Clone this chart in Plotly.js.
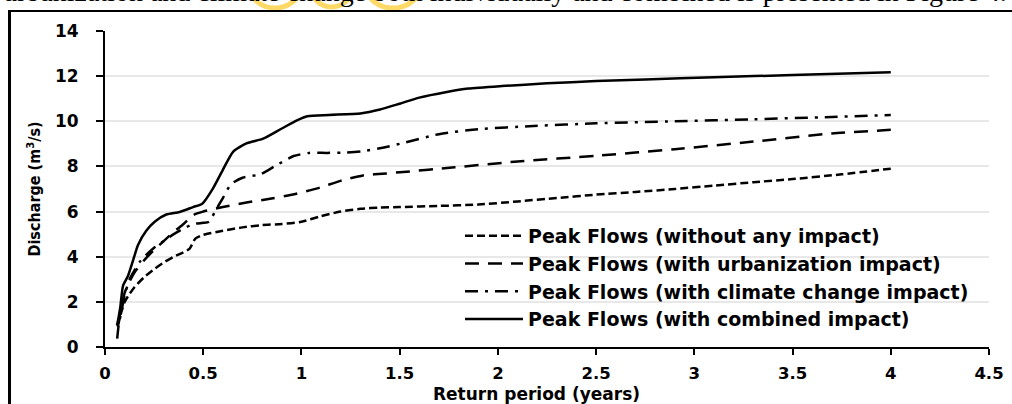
<!DOCTYPE html>
<html>
<head>
<meta charset="utf-8">
<script src="https://cdn.plot.ly/plotly-3.0.1.min.js"></script>
<style>html,body{margin:0;padding:0;background:#fff;}#chart{width:1012px;height:404px;}</style>
</head>
<body>
<div id="chart"></div>
<script>
// ---- data ----
const seriesNames = [
  'Peak Flows (without any impact)',
  'Peak Flows (with urbanization impact)',
  'Peak Flows (with climate change impact)',
  'Peak Flows (with combined impact)'
];

const periodWithout = [0.065, 0.08, 0.1, 0.125, 0.15, 0.2, 0.25, 0.3, 0.35, 0.4, 0.43, 0.46, 0.5, 0.6, 0.7, 0.8, 0.9, 1.0, 1.1, 1.2, 1.3, 1.4, 1.5, 1.7, 1.9, 2.1, 2.3, 2.5, 2.7, 2.9, 3.1, 3.3, 3.5, 3.75, 4.0];
const flowWithout   = [0.9, 1.45, 2.0, 2.35, 2.65, 3.1, 3.45, 3.75, 4.0, 4.2, 4.35, 4.8, 4.97, 5.15, 5.3, 5.4, 5.45, 5.55, 5.8, 6.0, 6.12, 6.18, 6.2, 6.25, 6.31, 6.45, 6.6, 6.75, 6.87, 7.0, 7.15, 7.3, 7.44, 7.65, 7.9];

const periodUrban = [0.065, 0.08, 0.1, 0.125, 0.15, 0.2, 0.25, 0.3, 0.35, 0.4, 0.45, 0.5, 0.6, 0.72, 0.855, 0.974, 1.093, 1.194, 1.313, 1.432, 1.5, 1.78, 2.1, 2.5, 2.9, 3.3, 3.7, 4.0];
const flowUrban   = [1.0, 1.6, 2.4, 2.9, 3.3, 3.85, 4.3, 4.7, 5.1, 5.45, 5.85, 6.0, 6.2, 6.4, 6.59, 6.79, 7.06, 7.35, 7.6, 7.69, 7.74, 7.96, 8.22, 8.47, 8.76, 9.1, 9.46, 9.62];

const periodClimate = [0.062, 0.07, 0.083, 0.1, 0.125, 0.15, 0.175, 0.2, 0.25, 0.3, 0.35, 0.4, 0.45, 0.5, 0.53, 0.56, 0.6, 0.64, 0.7, 0.79, 0.87, 0.96, 1.04, 1.13, 1.23, 1.31, 1.42, 1.5, 1.7, 1.9, 2.18, 2.5, 2.9, 3.3, 3.7, 4.0];
const flowClimate   = [0.37, 1.0, 1.55, 2.3, 3.0, 3.4, 3.75, 4.0, 4.4, 4.7, 5.0, 5.25, 5.45, 5.5, 5.55, 6.0, 6.6, 7.2, 7.5, 7.65, 8.04, 8.46, 8.6, 8.6, 8.62, 8.67, 8.84, 9.0, 9.43, 9.65, 9.79, 9.91, 10.0, 10.09, 10.19, 10.28];

const periodCombined = [0.061, 0.07, 0.078, 0.092, 0.117, 0.143, 0.168, 0.21, 0.253, 0.312, 0.38, 0.448, 0.495, 0.55, 0.6, 0.652, 0.72, 0.805, 0.9, 0.98, 1.03, 1.14, 1.3, 1.4, 1.5, 1.6, 1.74, 1.85, 2.02, 2.25, 2.5, 2.75, 3.1, 3.5, 4.0];
const flowCombined   = [0.95, 1.35, 1.77, 2.72, 3.15, 3.84, 4.52, 5.15, 5.55, 5.87, 5.98, 6.2, 6.35, 7.03, 7.85, 8.65, 9.02, 9.23, 9.68, 10.05, 10.22, 10.28, 10.35, 10.52, 10.78, 11.05, 11.3, 11.45, 11.56, 11.68, 11.78, 11.85, 11.95, 12.05, 12.17];

const xTickValues = [0, 0.5, 1, 1.5, 2, 2.5, 3, 3.5, 4, 4.5];
const xTickLabels = ['0', '0.5', '1', '1.5', '2', '2.5', '3', '3.5', '4', '4.5'];
const yTickValues = [0, 2, 4, 6, 8, 10, 12, 14];
const yTickLabels = ['0', '2', '4', '6', '8', '10', '12', '14'];

const xTitle = 'Return period (years)';
const yTitle = 'Discharge (m<sup>3</sup>/s)';
const captionText = 'urbanization and climate change both individually and combined is presented in Figure 4.';

// ---- styling ----
const boldFont = {family: 'DejaVu Sans, Verdana, sans-serif', color: '#000', weight: 'bold'};
const dashes = ['8px,4px', '14px,9px', '13px,7px,3px,7px', 'solid'];
const xs = [periodWithout, periodUrban, periodClimate, periodCombined];
const ys = [flowWithout, flowUrban, flowClimate, flowCombined];

const traces = seriesNames.map((name, i) => ({
  type: 'scatter',
  mode: 'lines',
  name: name,
  x: xs[i],
  y: ys[i],
  line: {color: '#000', width: 2.5, dash: dashes[i], shape: 'spline', smoothing: 0.6},
  hoverinfo: 'x+y+name'
}));

// plot area: x 105..989, y 31..347 (px)
const L = 105, W = 884, T = 31, H = 316;
const px = v => (v - L) / W;
const py = v => (T + H - v) / H;

const shapes = [
  // yellow highlight rings in the cut-off caption
  {type: 'circle', xref: 'paper', yref: 'paper', x0: px(250), x1: px(300), y0: py(8), y1: py(-34), line: {color: '#ffd966', width: 5}},
  {type: 'circle', xref: 'paper', yref: 'paper', x0: px(311), x1: px(352), y0: py(7), y1: py(-32), line: {color: '#ffd966', width: 5}},
  {type: 'circle', xref: 'paper', yref: 'paper', x0: px(366), x1: px(420), y0: py(8), y1: py(-36), line: {color: '#ffd966', width: 5}},
  // outer frame of the figure (top and left edges)
  {type: 'line', xref: 'paper', yref: 'paper', x0: px(9), x1: px(1013), y0: py(11), y1: py(11), line: {color: '#000', width: 2}},
  {type: 'line', xref: 'paper', yref: 'paper', x0: px(9.5), x1: px(9.5), y0: py(10), y1: py(406), line: {color: '#000', width: 3}}
];

const layout = {
  width: 1012,
  height: 404,
  margin: {l: L, r: 1012 - L - W, t: T, b: 404 - T - H, pad: 0, autoexpand: false},
  paper_bgcolor: '#fff',
  plot_bgcolor: '#fff',
  showlegend: true,
  legend: {
    x: px(460), y: py(217), xanchor: 'left', yanchor: 'top',
    bgcolor: 'rgba(0,0,0,0)', borderwidth: 0,
    font: Object.assign({size: 19}, boldFont),
    itemwidth: 58, traceorder: 'normal'
  },
  xaxis: {
    range: [0, 4.5],
    tickmode: 'array', tickvals: xTickValues, ticktext: xTickLabels,
    showline: true, linecolor: '#000', linewidth: 2,
    ticks: 'outside', ticklen: 6, tickwidth: 2, tickcolor: '#000',
    showgrid: false, zeroline: false,
    tickfont: Object.assign({size: 16.5}, boldFont),
    ticklabelstandoff: 4
  },
  yaxis: {
    range: [0, 14],
    tickmode: 'array', tickvals: yTickValues, ticktext: yTickLabels,
    showline: true, linecolor: '#000', linewidth: 2,
    ticks: 'outside', ticklen: 7, tickwidth: 2, tickcolor: '#000',
    showgrid: true, gridcolor: '#e8e8e8', gridwidth: 2, zeroline: false,
    tickfont: Object.assign({size: 17}, boldFont),
    ticklabelstandoff: 14,
    title: {text: yTitle, font: {family: 'DejaVu Sans Condensed, DejaVu Sans, sans-serif', size: 16, color: '#000', weight: 'bold'}, standoff: 10}
  },
  shapes: shapes,
  annotations: [
    {
      text: captionText,
      xref: 'paper', yref: 'paper',
      x: px(1), y: py(9.5), xanchor: 'left', yanchor: 'bottom',
      showarrow: false,
      font: {family: 'Liberation Serif, Times New Roman, serif', size: 28, color: '#000'}
    },
    {
      text: xTitle,
      xref: 'paper', yref: 'paper',
      x: px(536), y: py(393.8), xanchor: 'center', yanchor: 'middle',
      showarrow: false, borderpad: 0,
      font: Object.assign({size: 17}, boldFont)
    }
  ]
};

Plotly.newPlot('chart', traces, layout, {displayModeBar: false, staticPlot: true});
</script>
</body>
</html>
